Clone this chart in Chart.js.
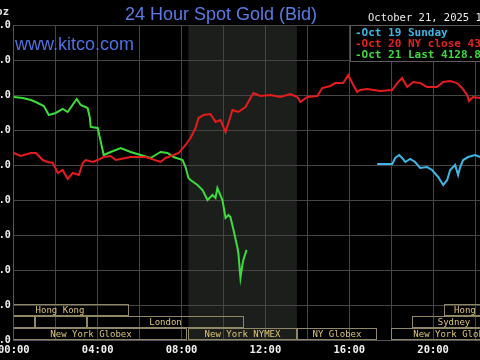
<!DOCTYPE html>
<html>
<head>
<meta charset="utf-8">
<script src="https://cdn.jsdelivr.net/npm/chart.js@4/dist/chart.umd.min.js"></script>
<style>
    html, body { margin: 0; padding: 0; background: #000; }
    body { width: 480px; height: 360px; overflow: hidden; position: relative; font-family: "DejaVu Sans Mono", monospace; }
    #wrap { position: absolute; left: -6px; top: 0; width: 546px; height: 360px; }
    .title { position: absolute; left: 0; top: 4px; width: 442px; text-align: center; color: #5b7be6; font: 18px "Liberation Sans", Arial, sans-serif; }
    .site { position: absolute; left: 15px; top: 34px; color: #4f70e3; font: 18px "Liberation Sans", Arial, sans-serif; }
    .unit { position: absolute; right: 471px; top: 5px; color: #e8e8e8; font: bold 10.5px "DejaVu Sans Mono", monospace; white-space: nowrap; }
    .stamp { position: absolute; left: 368px; top: 11px; color: #ececec; font: 10.5px "DejaVu Sans Mono", monospace; white-space: nowrap; }
    .legend { position: absolute; left: 350px; top: 25px; width: 160px; height: 34px; background: #000; border: 1px solid #5a5a5a; border-right: none; font: bold 11px "DejaVu Sans Mono", monospace; line-height: 11px; padding-top: 1px; white-space: nowrap; }
    .legend div { padding-left: 4px; }
</style>
</head>
<body>
<div id="wrap"><canvas id="gold-chart" width="546" height="360"></canvas></div>
<div class="title">24 Hour Spot Gold (Bid)</div>
<div class="site">www.kitco.com</div>
<div class="unit">USD/oz</div>
<div class="stamp">October 21, 2025 11:06 NY Time</div>
<div class="legend">
    <div style="color:#3fb6e6">-Oct 19 Sunday</div>
    <div style="color:#e42020">-Oct 20 NY close 4356.50</div>
    <div style="color:#3fd83f">-Oct 21 Last 4128.80</div>
</div>
<script>
// hours since 00:00 NY time, bid in USD/oz
const oct21Hours = [0, 0.43, 0.81, 1.05, 1.43, 1.67, 2.0, 2.33, 2.57, 3.0, 3.19, 3.52, 3.62, 3.67, 4.0, 4.29, 4.62, 5.1, 5.57, 6.05, 6.52, 7.0, 7.33, 7.62, 8.05, 8.19, 8.33, 8.43, 8.76, 9.0, 9.24, 9.48, 9.62, 9.71, 9.95, 10.1, 10.24, 10.33, 10.48, 10.67, 10.71, 10.81, 10.9, 10.95, 11.1];
const oct21Prices = [4347.1, 4345.7, 4342.9, 4340.0, 4334.3, 4321.4, 4324.3, 4330.0, 4325.7, 4344.3, 4335.7, 4331.4, 4318.6, 4304.3, 4302.9, 4264.3, 4268.6, 4274.3, 4268.6, 4264.3, 4260.0, 4268.6, 4267.1, 4261.4, 4257.1, 4247.1, 4231.4, 4228.6, 4221.4, 4214.3, 4200.0, 4207.1, 4202.9, 4217.1, 4200.0, 4174.3, 4178.6, 4175.7, 4157.1, 4131.4, 4124.3, 4088.6, 4107.1, 4114.3, 4128.8];

const oct20Hours = [0, 0.33, 0.81, 1.05, 1.38, 1.62, 1.86, 2.1, 2.33, 2.57, 2.81, 3.1, 3.29, 3.43, 3.76, 4.0, 4.29, 4.62, 4.86, 5.1, 5.57, 6.29, 7.0, 7.24, 7.62, 7.86, 8.19, 8.43, 8.67, 8.81, 9.05, 9.38, 9.62, 9.86, 10.1, 10.43, 10.71, 11.05, 11.29, 11.43, 11.76, 12.24, 12.71, 13.19, 13.52, 13.67, 14.0, 14.48, 14.71, 15.1, 15.33, 15.71, 15.95, 16.19, 16.38, 16.52, 16.86, 17.48, 18.05, 18.29, 18.52, 18.76, 19.05, 19.38, 19.71, 20.19, 20.48, 20.81, 21.14, 21.38, 21.62, 21.71, 21.9, 22.24];
const oct20Prices = [4267.1, 4262.9, 4267.1, 4267.1, 4257.1, 4254.3, 4252.9, 4238.6, 4242.9, 4230.0, 4238.6, 4235.7, 4252.9, 4257.1, 4254.3, 4257.1, 4261.4, 4262.9, 4257.1, 4258.6, 4261.4, 4261.4, 4254.3, 4260.0, 4264.3, 4267.1, 4278.6, 4288.6, 4302.9, 4317.1, 4321.4, 4322.9, 4311.4, 4314.3, 4297.1, 4328.6, 4325.7, 4332.9, 4345.7, 4352.9, 4348.6, 4350.0, 4347.1, 4351.4, 4347.1, 4340.0, 4347.1, 4348.6, 4360.0, 4362.9, 4367.1, 4367.1, 4378.6, 4364.3, 4354.3, 4357.1, 4358.6, 4355.7, 4357.1, 4367.1, 4374.3, 4361.4, 4368.6, 4367.1, 4361.4, 4361.4, 4368.6, 4370.0, 4367.1, 4360.0, 4350.0, 4341.4, 4347.1, 4345.7];

const oct19Hours = [17.33, 18.05, 18.19, 18.38, 18.52, 18.67, 18.9, 19.14, 19.38, 19.71, 19.95, 20.24, 20.48, 20.67, 20.81, 21.05, 21.19, 21.29, 21.43, 21.67, 22.0, 22.24];
const oct19Prices = [4251.4, 4251.4, 4260.0, 4264.3, 4260.0, 4254.3, 4258.6, 4254.3, 4245.7, 4247.1, 4242.9, 4232.9, 4221.4, 4228.6, 4242.9, 4250.0, 4235.7, 4247.1, 4257.1, 4261.4, 4264.3, 4261.4];

const yTicks = [4000, 4050, 4100, 4150, 4200, 4250, 4300, 4350, 4400, 4450];
const xTickHours = [0, 4, 8, 12, 16, 20, 24];

// trading sessions drawn along the bottom of the plot (row 0 = top row)
const sessionNames = ["Hong Kong", "", "", "London", "New York Globex", "New York NYMEX", "NY Globex", "Hong Kong", "Sydney", "New York Globex"];
const sessionStarts = [-1.1, -1, 1.0, 3.5, -0.9, 8.33, 13.5, 20.5, 19.0, 18.0];
const sessionEnds = [5.5, 1.0, 3.5, 11.0, 8.25, 13.5, 17.3, 23.8, 23.0, 24.0];
const sessionRows = [0, 1, 1, 1, 2, 2, 2, 0, 1, 2];
const shadedSession = "New York NYMEX";

const toPoints = (hours, prices) => hours.map((h, i) => ({ x: h, y: prices[i] }));

const sessionPlugin = {
    id: "sessions",
    beforeDraw(chart) {
        const { ctx, chartArea, scales } = chart;
        ctx.save();
        ctx.fillStyle = "#000";
        ctx.fillRect(0, 0, chart.width, chart.height);
        const i = sessionNames.indexOf(shadedSession);
        const x0 = scales.x.getPixelForValue(sessionStarts[i]);
        const x1 = scales.x.getPixelForValue(sessionEnds[i]);
        ctx.fillStyle = "#1c1e1c";
        ctx.fillRect(x0, chartArea.top, x1 - x0, chartArea.bottom - chartArea.top);
        ctx.restore();
    },
    afterDraw(chart) {
        const { ctx, chartArea, scales } = chart;
        const rowH = 12;
        ctx.save();
        ctx.beginPath();
        ctx.rect(chartArea.left, chartArea.top, chartArea.right - chartArea.left, chartArea.bottom - chartArea.top + 1);
        ctx.clip();
        ctx.lineWidth = 1;
        ctx.strokeStyle = "#8f8766";
        ctx.fillStyle = "#dcc67a";
        ctx.font = "9px 'DejaVu Sans Mono'";
        ctx.textAlign = "center";
        ctx.textBaseline = "middle";
        sessionNames.forEach((name, i) => {
            const top = chartArea.bottom - (3 - sessionRows[i]) * rowH;
            const x0 = Math.round(scales.x.getPixelForValue(sessionStarts[i])) + 0.5;
            const x1 = Math.round(scales.x.getPixelForValue(sessionEnds[i])) - 0.5;
            ctx.strokeRect(x0, Math.round(top) + 0.5, x1 - x0, rowH - 1);
            if (name) ctx.fillText(name, (x0 + x1) / 2, top + rowH / 2 + 0.5);
        });
        ctx.restore();
    }
};

const lineSet = (label, hours, prices, color) => ({
    label, data: toPoints(hours, prices), borderColor: color, borderWidth: 2,
    pointRadius: 0, tension: 0, fill: false
});

new Chart(document.getElementById("gold-chart"), {
    type: "line",
    data: {
        datasets: [
            lineSet("Oct 19 Sunday", oct19Hours, oct19Prices, "#3fb6e6"),
            lineSet("Oct 20 NY close", oct20Hours, oct20Prices, "#e41c1c"),
            lineSet("Oct 21 Last", oct21Hours, oct21Prices, "#3ddc3d")
        ]
    },
    options: {
        responsive: false,
        animation: false,
        devicePixelRatio: 1,
        layout: { autoPadding: false, padding: { top: 25, right: 23, left: 0, bottom: 0 } },
        plugins: { legend: { display: false }, tooltip: { enabled: false } },
        scales: {
            x: {
                type: "linear", min: 0, max: 24,
                afterFit: scale => { scale.height = 20; },
                afterBuildTicks: scale => { scale.ticks = [0, 2, 4, 6, 8, 10, 12, 14, 16, 18, 20, 22, 24].map(v => ({ value: v })); },
                grid: { color: "#454545", drawTicks: false },
                border: { color: "#555" },
                ticks: {
                    color: "#f2f2f2", padding: 4, maxRotation: 0, autoSkip: false,
                    font: { family: "DejaVu Sans Mono", size: 10.5, weight: "bold" },
                    callback: v => xTickHours.includes(v) ? String(v).padStart(2, "0") + ":00" : ""
                }
            },
            y: {
                min: yTicks[0], max: yTicks[yTicks.length - 1],
                afterFit: scale => { scale.width = 13; },
                afterBuildTicks: scale => { scale.ticks = yTicks.map(v => ({ value: v })); },
                grid: { color: "#454545", drawTicks: false },
                border: { color: "#555" },
                ticks: {
                    color: "#f2f2f2", padding: 3,
                    font: { family: "DejaVu Sans Mono", size: 10, weight: "bold" },
                    callback: v => v.toFixed(1)
                }
            }
        }
    },
    plugins: [sessionPlugin]
});
</script>
</body>
</html>
